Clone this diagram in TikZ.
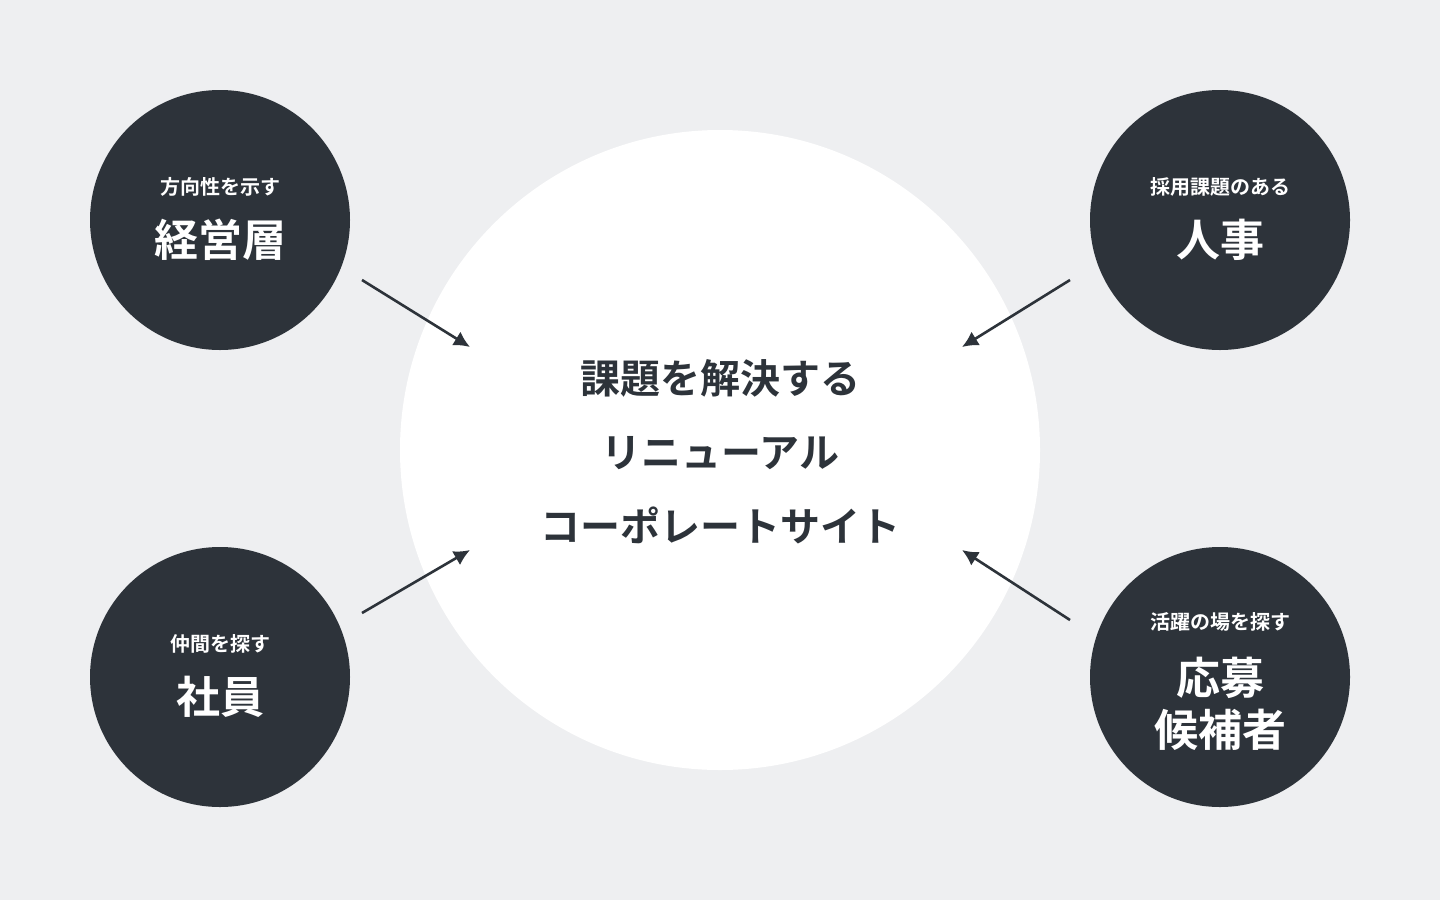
\documentclass[tikz,border=0pt]{standalone}
\usepackage{fontspec}
\newfontfamily\jp{Noto Sans CJK JP Bold}
\definecolor{bg}{HTML}{EEEFF1}
\definecolor{dk}{HTML}{2D333A}
\begin{document}
\begin{tikzpicture}[x=0.5pt,y=-0.5pt,
  sm/.style={circle,fill=dk,minimum size=260*0.5pt,inner sep=0pt,text=white,align=center,font=\jp},
  arr/.style={draw=dk,line width=1.3pt,-{Latex[length=8pt,width=8pt]}}]
\usetikzlibrary{arrows.meta}
\fill[bg] (0,0) rectangle (1440,900);
\useasboundingbox (0,0) rectangle (1440,900);
\node[circle,fill=white,minimum size=640*0.5pt,inner sep=0pt] (c) at (720,450) {};
\node[text=dk,font=\jp\fontsize{20pt}{37pt}\selectfont,align=center] (t) at (720,452) {課題を解決する\\リニューアル\\コーポレートサイト};
\node[sm] (a) at (220,220) {};
\node[sm] (b) at (220,677) {};
\node[sm] (d) at (1220,220) {};
\node[sm] (e) at (1220,677) {};
\node[text=white,font=\jp\fontsize{10pt}{12pt}\selectfont] (a1) at (220,187) {方向性を示す};
\node[text=white,font=\jp\fontsize{22pt}{26pt}\selectfont] (a2) at (220,240) {経営層};
\node[text=white,font=\jp\fontsize{10pt}{12pt}\selectfont] (b1) at (220,644) {仲間を探す};
\node[text=white,font=\jp\fontsize{22pt}{26pt}\selectfont] (b2) at (220,697) {社員};
\node[text=white,font=\jp\fontsize{10pt}{12pt}\selectfont] (d1) at (1220,187) {採用課題のある};
\node[text=white,font=\jp\fontsize{22pt}{26pt}\selectfont] (d2) at (1220,240) {人事};
\node[text=white,font=\jp\fontsize{10pt}{12pt}\selectfont] (e1) at (1220,622) {活躍の場を探す};
\node[text=white,font=\jp\fontsize{22pt}{26pt}\selectfont,align=center] (e2) at (1220,704) {応募\\候補者};
\coordinate (p1) at (362,280); \coordinate (q1) at (470,347);
\coordinate (p2) at (362,613); \coordinate (q2) at (470,550);
\coordinate (p3) at (1070,280); \coordinate (q3) at (962,347);
\coordinate (p4) at (1070,620); \coordinate (q4) at (962,550);
\draw[arr] (p1) -- (q1);
\draw[arr] (p2) -- (q2);
\draw[arr] (p3) -- (q3);
\draw[arr] (p4) -- (q4);
\end{tikzpicture}
\end{document}
